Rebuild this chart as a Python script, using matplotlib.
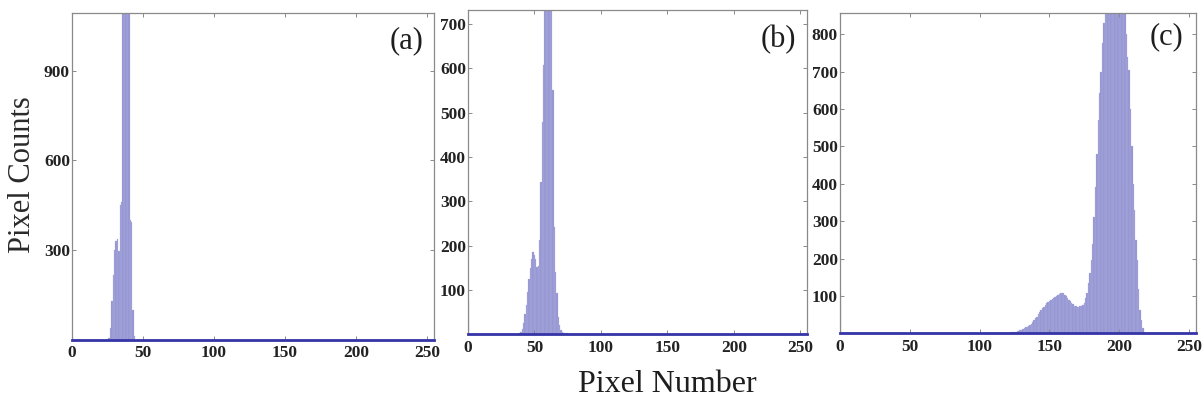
import numpy as np
import matplotlib
matplotlib.use('Agg')
import matplotlib.pyplot as plt

# grey-level histograms, 256 bins (0..255)
bins = np.arange(256)

# (a) dark image
hist_a_start = 26
hist_a = [5, 40, 130, 215, 300, 330, 335, 295, 450, 460,
          1300, 2000, 2200, 1800, 1200, 400, 395, 100, 12]
# (b) medium image
hist_b_start = 39
hist_b = [3, 6, 12, 25, 45, 65, 95, 125, 150, 170,
          185, 178, 170, 152, 155, 213, 344, 480, 608, 900,
          1100, 1300, 1250, 1100, 950, 551, 243, 140, 93, 40,
          20, 10, 6, 4, 3, 2, 2]
# (c) bright image
hist_c_start = 120
hist_c = [2, 2, 3, 3, 4, 4, 5, 6, 7, 8,
          10, 12, 14, 16, 18, 20, 22, 25, 30, 35,
          40, 45, 52, 58, 63, 67, 71, 76, 80, 84,
          87, 89, 92, 95, 98, 101, 104, 106, 108, 109,
          108, 104, 99, 95, 90, 86, 82, 78, 74, 72,
          71, 71, 72, 73, 76, 82, 95, 108, 135, 161,
          196, 240, 312, 392, 480, 570, 642, 700, 776, 830,
          900, 960, 1020, 1050, 1080, 1100, 1100, 1080, 1050, 1010,
          980, 950, 920, 890, 860, 800, 740, 704, 600, 500,
          400, 330, 250, 196, 120, 62, 36, 15, 5, 2]
# count in bin 0 of each image
zero_bin = [10, 75, 105]

y_tops = [1094, 732, 857]
y_ticks = [[300, 600, 900],
           [100, 200, 300, 400, 500, 600, 700],
           [100, 200, 300, 400, 500, 600, 700, 800]]
x_ticks = [0, 50, 100, 150, 200, 250]
tags = ['(a)', '(b)', '(c)']

BAR   = '#9393d2'
BASE  = '#3535a8'
FRAME = '#8a8a8a'
SERIF = ['Liberation Serif', 'DejaVu Serif']

fig = plt.figure(figsize=(12.03, 4.05), dpi=100)
boxes = [[0.0599, 0.1617, 0.3009, 0.8066],
         [0.3890, 0.1746, 0.2818, 0.8007],
         [0.6983, 0.1768, 0.2959, 0.7911]]

hists = [(hist_a_start, hist_a), (hist_b_start, hist_b), (hist_c_start, hist_c)]
tag_pos = [(0.925, 0.915), (0.915, 0.91), (0.918, 0.925)]

for i, (start, vals) in enumerate(hists):
    counts = np.zeros(256)
    counts[start:start + len(vals)] = vals
    counts[0] = zero_bin[i]

    ax = fig.add_axes(boxes[i])
    ax.bar(bins, counts, width=1.0, color=BAR, edgecolor='#b4b4e2', linewidth=0.2)
    ax.plot([0, 255], [0, 0], color=BASE, lw=2.0, zorder=3, clip_on=False)

    ax.set_xlim(0, 255)
    ax.set_ylim(0, y_tops[i])
    ax.set_xticks(x_ticks)
    ax.set_yticks(y_ticks[i])
    ax.tick_params(direction='in', length=3, width=0.7, color=FRAME,
                   top=True, right=True, labelsize=12.5)
    ax.tick_params(axis='x', pad=4)
    ax.tick_params(axis='y', pad=1.5)
    for lab in ax.get_xticklabels() + ax.get_yticklabels():
        lab.set_family(SERIF)
        lab.set_fontweight('bold')
        lab.set_color('#222222')
    for s in ax.spines.values():
        s.set_color(FRAME)
        s.set_linewidth(0.9)

    ax.text(tag_pos[i][0], tag_pos[i][1], tags[i], transform=ax.transAxes,
            ha='center', va='center', fontsize=22, family=SERIF, color='#1e1e1e')

fig.text(0.019, 0.57, 'Pixel Counts', rotation=90, ha='center', va='center',
         fontsize=22, family=SERIF, color='#2a2a2a')
fig.text(0.555, 0.05, 'Pixel Number', ha='center', va='center',
         fontsize=23, family=SERIF, color='#1e1e1e')

fig.savefig('out.png', dpi=100, facecolor='white')
